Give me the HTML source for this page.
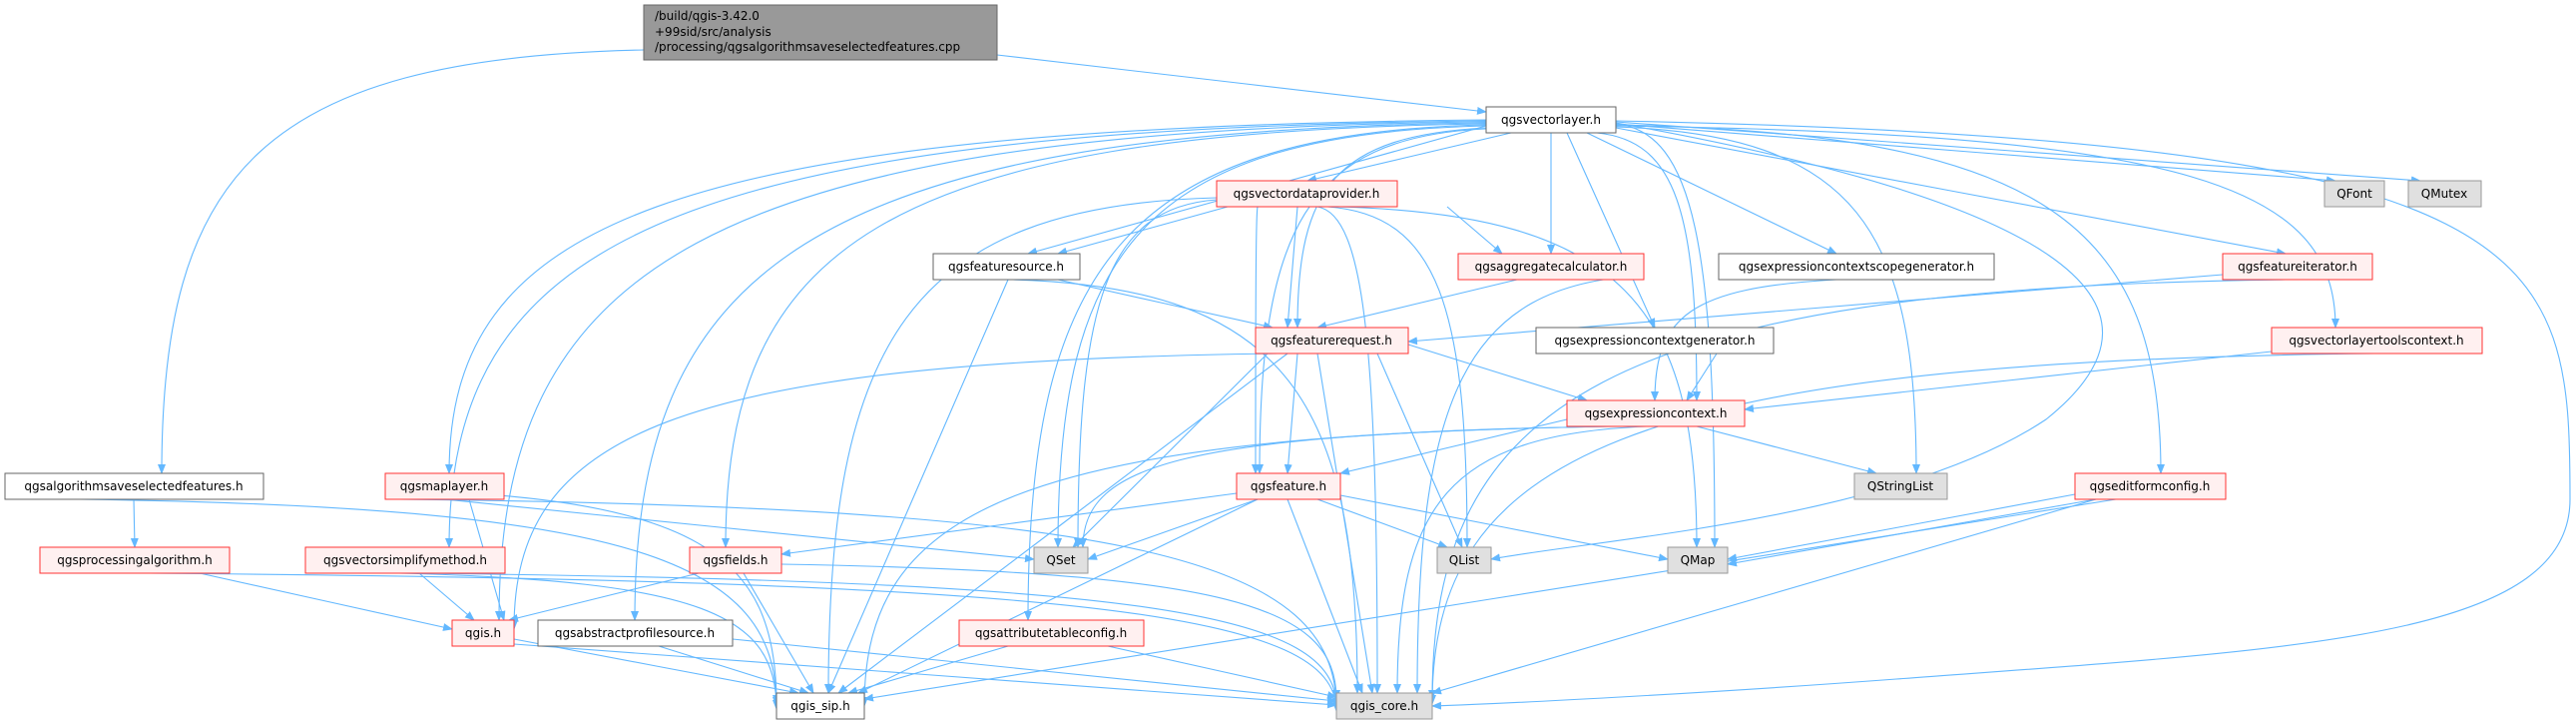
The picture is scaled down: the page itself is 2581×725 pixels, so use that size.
<!DOCTYPE html>
<html><head><meta charset="utf-8"><style>
html,body{margin:0;padding:0;background:#fff;width:2581px;height:725px;overflow:hidden}
svg text{font-family:"DejaVu Sans","Liberation Sans",sans-serif;font-size:12px;fill:#000}
</style></head><body>
<svg id="g" width="2581" height="725" viewBox="0 0 2581 725" xmlns="http://www.w3.org/2000/svg">
<defs><marker id="a" markerWidth="10" markerHeight="8" refX="9" refY="4" orient="auto" markerUnits="userSpaceOnUse"><path d="M0,0 L10,4 L0,8 z" fill="#63b8ff"/></marker></defs>
<g id="edges" fill="none" stroke="#63b8ff" stroke-width="1.1"></g>
<g id="nodes">
<rect x="645" y="5" width="354" height="55" fill="#999" stroke="#666"/>
<text x="656" y="20">/build/qgis-3.42.0</text>
<text x="656" y="36">+99sid/src/analysis</text>
<text x="656" y="51">/processing/qgsalgorithmsaveselectedfeatures.cpp</text>

<rect x="1489" y="107" width="130" height="26" fill="#fff" stroke="#666"/><text x="1554" y="124" text-anchor="middle">qgsvectorlayer.h</text>
<rect x="1219" y="181" width="181" height="26" fill="#fff0f0" stroke="#f33"/><text x="1309" y="198" text-anchor="middle">qgsvectordataprovider.h</text>
<rect x="2329" y="181" width="60" height="26" fill="#e0e0e0" stroke="#999"/><text x="2359" y="198" text-anchor="middle">QFont</text>
<rect x="2413" y="181" width="73" height="26" fill="#e0e0e0" stroke="#999"/><text x="2449" y="198" text-anchor="middle">QMutex</text>
<rect x="935" y="254" width="147" height="26" fill="#fff" stroke="#666"/><text x="1008" y="271" text-anchor="middle">qgsfeaturesource.h</text>
<rect x="1461" y="254" width="186" height="26" fill="#fff0f0" stroke="#f33"/><text x="1554" y="271" text-anchor="middle">qgsaggregatecalculator.h</text>
<rect x="1722" y="254" width="276" height="26" fill="#fff" stroke="#666"/><text x="1860" y="271" text-anchor="middle">qgsexpressioncontextscopegenerator.h</text>
<rect x="2227" y="254" width="150" height="26" fill="#fff0f0" stroke="#f33"/><text x="2302" y="271" text-anchor="middle">qgsfeatureiterator.h</text>
<rect x="1258" y="328" width="153" height="26" fill="#fff0f0" stroke="#f33"/><text x="1334" y="345" text-anchor="middle">qgsfeaturerequest.h</text>
<rect x="1539" y="328" width="238" height="26" fill="#fff" stroke="#666"/><text x="1658" y="345" text-anchor="middle">qgsexpressioncontextgenerator.h</text>
<rect x="2276" y="328" width="211" height="26" fill="#fff0f0" stroke="#f33"/><text x="2381" y="345" text-anchor="middle">qgsvectorlayertoolscontext.h</text>
<rect x="1570" y="401" width="178" height="26" fill="#fff0f0" stroke="#f33"/><text x="1659" y="418" text-anchor="middle">qgsexpressioncontext.h</text>
<rect x="5" y="474" width="259" height="26" fill="#fff" stroke="#666"/><text x="134" y="491" text-anchor="middle">qgsalgorithmsaveselectedfeatures.h</text>
<rect x="386" y="474" width="119" height="26" fill="#fff0f0" stroke="#f33"/><text x="445" y="491" text-anchor="middle">qgsmaplayer.h</text>
<rect x="1239" y="474" width="104" height="26" fill="#fff0f0" stroke="#f33"/><text x="1291" y="491" text-anchor="middle">qgsfeature.h</text>
<rect x="1858" y="474" width="93" height="26" fill="#e0e0e0" stroke="#999"/><text x="1904" y="491" text-anchor="middle">QStringList</text>
<rect x="2079" y="474" width="151" height="26" fill="#fff0f0" stroke="#f33"/><text x="2154" y="491" text-anchor="middle">qgseditformconfig.h</text>
<rect x="40" y="548" width="190" height="26" fill="#fff0f0" stroke="#f33"/><text x="135" y="565" text-anchor="middle">qgsprocessingalgorithm.h</text>
<rect x="306" y="548" width="200" height="26" fill="#fff0f0" stroke="#f33"/><text x="406" y="565" text-anchor="middle">qgsvectorsimplifymethod.h</text>
<rect x="691" y="548" width="92" height="26" fill="#fff0f0" stroke="#f33"/><text x="737" y="565" text-anchor="middle">qgsfields.h</text>
<rect x="1036" y="548" width="54" height="26" fill="#e0e0e0" stroke="#999"/><text x="1063" y="565" text-anchor="middle">QSet</text>
<rect x="1440" y="548" width="54" height="26" fill="#e0e0e0" stroke="#999"/><text x="1467" y="565" text-anchor="middle">QList</text>
<rect x="1671" y="548" width="60" height="26" fill="#e0e0e0" stroke="#999"/><text x="1701" y="565" text-anchor="middle">QMap</text>
<rect x="453" y="621" width="62" height="26" fill="#fff0f0" stroke="#f33"/><text x="484" y="638" text-anchor="middle">qgis.h</text>
<rect x="539" y="621" width="195" height="26" fill="#fff" stroke="#666"/><text x="636" y="638" text-anchor="middle">qgsabstractprofilesource.h</text>
<rect x="961" y="621" width="185" height="26" fill="#fff0f0" stroke="#f33"/><text x="1053" y="638" text-anchor="middle">qgsattributetableconfig.h</text>
<rect x="778" y="694" width="88" height="26" fill="#fff" stroke="#666"/><text x="822" y="711" text-anchor="middle">qgis_sip.h</text>
<rect x="1339" y="694" width="96" height="26" fill="#e0e0e0" stroke="#999"/><text x="1387" y="711" text-anchor="middle">qgis_core.h</text>
</g>
</svg>
<script>
var E=[
[645,50,162,474,'v'],[999,55,1489,112],
[1514,133,1310,181],[1554,133,1554,254],[1590,133,1840,254],[1619,124,2340,181],[1619,122,2425,181],
[1619,128,2290,254],[1619,126,2340,328,'v'],[1570,133,1658,328],[1489,128,1300,328,'v'],[1489,126,1030,254],
[1600,133,1700,401,'v'],[1619,127,1920,474,'v'],[1619,125,2165,474,'v'],[1619,123,1494,560,'r'],
[1619,124,1718,548,'v'],[1619,121,1435,707,'r2'],[1489,120,450,474,'v'],[1489,121,450,548,'v'],
[1489,122,500,621,'v'],[1489,123,636,621,'v'],[1489,124,727,548,'v'],[1489,125,1030,621,'v'],
[1489,126,1060,548,'v'],[1489,129,1262,474,'v'],
[1230,207,1060,254],[1450,207,1505,254],[1300,207,1290,328],[1260,207,1258,474,'v'],[1219,200,1080,548,'v'],
[1330,207,1470,548,'v'],[1340,207,1700,548,'v'],[1320,207,1380,694,'v'],[1219,198,830,694,'v'],
[1060,280,1275,328],[1010,280,830,694],[1015,280,1360,694,'v'],
[1520,280,1320,328],[1647,276,1420,694,'v'],[1840,280,1658,401,'v'],[1720,354,1690,401],
[2227,275,1411,342],[2290,280,1435,700,'v'],[2276,352,1748,410],[2380,354,1435,705,'v'],
[1411,345,1590,401],[1300,354,1290,474],[1380,354,1465,548],[1270,354,1075,548],[1280,354,515,630,'v'],
[1290,354,840,694],[1320,354,1375,694],
[1570,420,1343,474],[1610,427,1085,548,'v'],[1700,427,1880,474],[1650,427,1400,694,'v'],[1620,427,866,707,'v'],
[1239,494,783,555],[1260,500,1090,560],[1320,500,1450,548],[1343,496,1671,560],[1260,500,860,694],[1290,500,1365,694],
[2079,495,1731,560],[2100,500,1731,565],[2100,500,1435,694],[2120,500,866,700],
[134,500,135,548],[80,500,778,707,'v'],[386,494,1036,560],[470,500,505,621],[386,490,778,705,'v'],[400,500,1339,710,'v'],
[200,574,453,630],[150,574,1339,712,'v'],[420,574,475,621],[400,574,778,710,'v'],[410,574,1339,708,'v'],
[700,574,510,621],[745,574,815,694],[783,565,1339,700,'v'],
[515,640,800,694],[515,645,1339,706],[660,647,810,694],[734,640,1339,702],[1010,647,850,694],[1110,647,1339,698]
];
var g=document.getElementById('edges'),s='';
E.forEach(function(e){var x1=e[0],y1=e[1],x2=e[2],y2=e[3],t=e[4],d;
if(t==='r2'){d='M'+x1+','+y1+' C2560,140 2575,250 2575,500 C2575,640 2300,650 1900,680 C1700,695 1500,705 '+x2+','+y2;}
else if(t==='r'){d='M'+x1+','+y1+' C2050,200 2200,300 2050,420 C1900,520 1600,540 '+x2+','+y2;}
else if(t==='v'){var my=(y1+y2)/2;d='M'+x1+','+y1+' C'+(x1+(x2-x1)*0.8)+','+(y1+8)+' '+x2+','+(y1+(y2-y1)*0.3)+' '+x2+','+y2;}
else{d='M'+x1+','+y1+' C'+(x1+(x2-x1)*0.3)+','+(y1+(y2-y1)*0.3)+' '+(x1+(x2-x1)*0.7)+','+(y1+(y2-y1)*0.7)+' '+x2+','+y2;}
s+='<path d="'+d+'" marker-end="url(#a)"/>';});
g.innerHTML=s;
</script>
</body></html>
